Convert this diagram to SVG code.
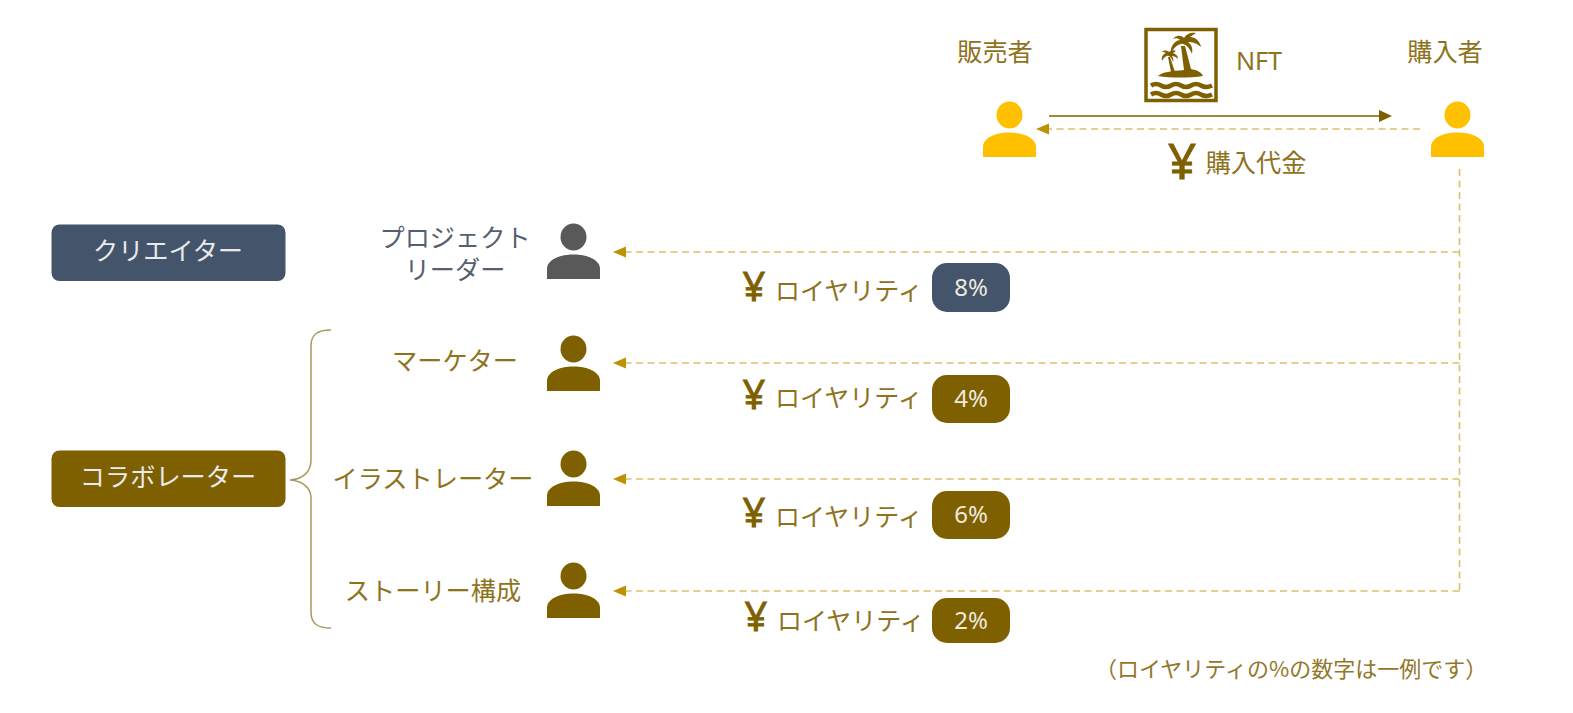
<svg xmlns="http://www.w3.org/2000/svg" xmlns:xlink="http://www.w3.org/1999/xlink" width="1573" height="713" viewBox="0 0 1573 713">
<style>
text{font-family:"Noto Sans CJK JP","Noto Sans",sans-serif;font-weight:400;}
.l{fill:#7f6000;font-size:25.200px;text-anchor:middle;opacity:.88}
.g{fill:#55606f;font-size:25.200px;text-anchor:middle}
.w{fill:#e8eaee;font-size:25.200px;text-anchor:middle}
.p{fill:#edeadf;font-size:24px;text-anchor:middle;font-family:"Noto Sans",sans-serif}
.y{fill:#7f6000;stroke:#7f6000;stroke-width:.8;font-size:40px;text-anchor:middle;font-family:"Noto Sans",sans-serif}
.r{fill:#7f6000;font-size:25px;opacity:.88}
.d{fill:none;stroke:#dcc06c;stroke-width:1.6;stroke-dasharray:7 4.5}
.s{fill:none;stroke:#7f6000;stroke-width:1.5}
.ah{fill:#bf9000}
</style>
<defs>
<g id="person">
<ellipse cx="26.500" cy="14" rx="13" ry="13.500"/>
<path d="M0 56V46C0 37 12 31.500 26.500 31.500S53 37 53 46V56Z"/>
</g>
</defs>
<rect width="1573" height="713" fill="#fff"/>
<g id="connectors">
<path class="s" d="M1049 116H1382"/>
<path d="M1392 116L1379 110V122Z" fill="#7f6000"/>
<path class="d" d="M1420 129H1046"/>
<path class="ah" d="M1036 129L1049 123.500V134.500Z"/>
<path class="d" d="M1459.500 169V591"/>
<path class="d" d="M1459.500 252H624"/>
<path class="ah" d="M613 252L626 246.500V257.500Z"/>
<path class="d" d="M1459.500 363H624"/>
<path class="ah" d="M613 363L626 357.500V368.500Z"/>
<path class="d" d="M1459.500 479H624"/>
<path class="ah" d="M613 479L626 473.500V484.500Z"/>
<path class="d" d="M1459.500 591H624"/>
<path class="ah" d="M613 591L626 585.500V596.500Z"/>
<path id="brace" d="M331 330C318 330 311 334 311 346V460C311 472 303 479 290 480C303 481 311 488 311 498V612C311 624 318 628 331 628" fill="none" stroke="#a8995c" stroke-width="1.500"/>
</g>
<g id="seller"><text class="l" x="995" y="61">販売者</text><use xlink:href="#person" href="#person" x="983" y="101" fill="#ffc000"/></g>
<g id="buyer"><text class="l" x="1445" y="61">購入者</text><use xlink:href="#person" href="#person" x="1431" y="101" fill="#ffc000"/></g>
<g id="nft">
<rect x="1146" y="29.500" width="70" height="71" fill="#fff" stroke="#7f6000" stroke-width="3.500"/>
<g fill="#7f6000">
<path d="M1158 76C1162 72 1172 71 1184 70L1181 46L1185 46L1191 69C1197 70 1201 72 1203 76C1190 78 1170 78 1158 76Z"/>
<path d="M1183 44C1180 43 1174 47 1171 53C1170 47 1174 41 1180 40C1178 38 1175 38 1173 39C1176 35 1181 35 1184 38C1186 34 1191 32 1196 33L1190 37C1195 37 1200 41 1201 47C1197 43 1192 42 1188 42C1192 45 1193 49 1192 54C1190 49 1187 45 1183 44Z"/>
<path d="M1171 72L1168 57L1170 57L1175 72Z"/>
<path d="M1169 56C1167 55 1164 57 1162 61C1161 57 1163 54 1166 53C1165 52 1163 52 1162 52C1164 50 1167 50 1169 52C1171 50 1174 50 1176 51L1173 53C1176 54 1178 56 1178 59C1176 57 1174 56 1172 56C1173 58 1174 60 1173 62C1172 59 1171 57 1169 56Z"/>
</g>
<path d="M1151 85.500Q1156 82.500 1161 85.500T1171 85.500T1181 85.500T1191 85.500T1201 85.500T1212 85.500M1151 94.500Q1156 91.500 1161 94.500T1171 94.500T1181 94.500T1191 94.500T1201 94.500T1212 94.500" fill="none" stroke="#7f6000" stroke-width="4.500"/>
<text class="l" x="1259" y="70" style="font-family:'Noto Sans',sans-serif">NFT</text>
</g>
<g id="payment"><text class="y" x="1182" y="179" style="font-size:50px">¥</text><text class="l" x="1256" y="172">購入代金</text></g>
<g id="creator"><rect x="51.500" y="224.500" width="234" height="56.500" rx="8" fill="#44546a"/><text class="w" x="168" y="260">クリエイター</text></g>
<g id="collaborator"><rect x="51.500" y="450.500" width="234" height="56.500" rx="8" fill="#7f6000"/><text class="w" x="168" y="486">コラボレーター</text></g>
<g id="leader"><text class="g" x="455" y="247">プロジェクト</text><text class="g" x="455" y="279">リーダー</text><use xlink:href="#person" href="#person" x="547" y="223" fill="#595959"/></g>
<g id="marketer"><text class="l" x="455" y="370">マーケター</text><use xlink:href="#person" href="#person" x="547" y="335" fill="#7f6000"/></g>
<g id="illustrator"><text class="l" x="433" y="488">イラストレーター</text><use xlink:href="#person" href="#person" x="547" y="450" fill="#7f6000"/></g>
<g id="story"><text class="l" x="433" y="600">ストーリー構成</text><use xlink:href="#person" href="#person" x="547" y="562" fill="#7f6000"/></g>
<g id="r8"><text class="y" x="754" y="301">¥</text><text class="r" x="775" y="300">ロイヤリティ</text><rect x="932" y="263" width="78" height="49" rx="15" fill="#44546a"/><text class="p" x="971" y="296">8%</text></g>
<g id="r4"><text class="y" x="754" y="409">¥</text><text class="r" x="775" y="407">ロイヤリティ</text><rect x="932" y="375" width="78" height="48" rx="15" fill="#7f6000"/><text class="p" x="971" y="407">4%</text></g>
<g id="r6"><text class="y" x="754" y="527">¥</text><text class="r" x="775" y="526">ロイヤリティ</text><rect x="932" y="491" width="78" height="48" rx="15" fill="#7f6000"/><text class="p" x="971" y="523">6%</text></g>
<g id="r2"><text class="y" x="756" y="631">¥</text><text class="r" x="777" y="630">ロイヤリティ</text><rect x="932" y="598" width="78" height="45" rx="15" fill="#7f6000"/><text class="p" x="971" y="629">2%</text></g>
<text id="note" x="1095" y="677" style="fill:#7f6000;font-size:22px;opacity:.85">（ロイヤリティの%の数字は一例です）</text>
</svg>
